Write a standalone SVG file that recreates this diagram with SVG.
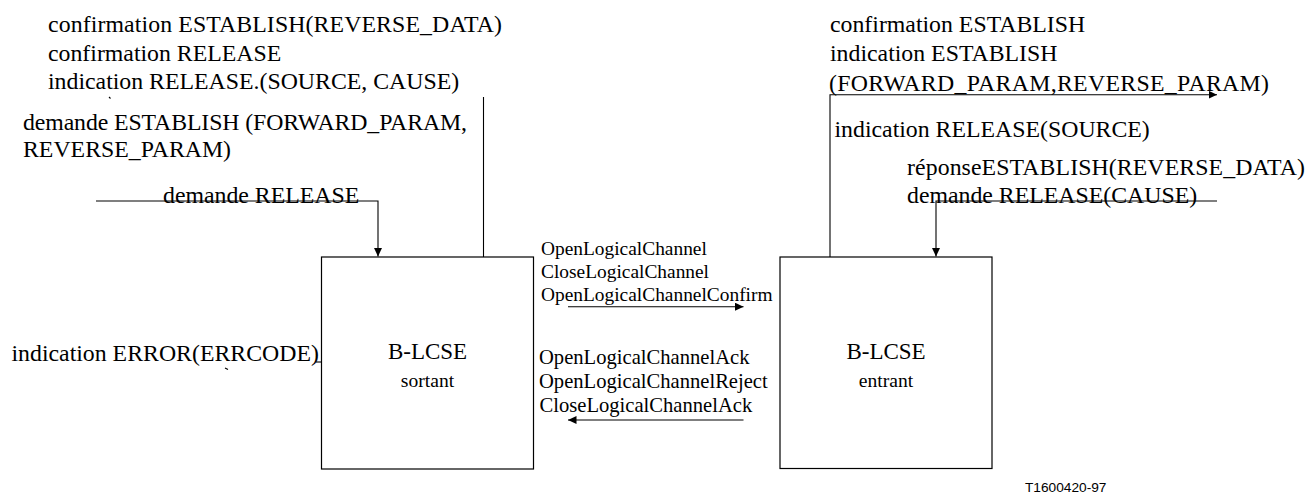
<svg xmlns="http://www.w3.org/2000/svg" width="1310" height="493" viewBox="0 0 1310 493">
<style>
.box{fill:#fff;stroke:#000;stroke-width:1.2}
.ln{fill:none;stroke:#000;stroke-width:1.1}
.arr{marker-end:url(#ah)}
.lg{font-size:23.8px}
.mt{font-size:19.4px}
.mb{font-size:20.6px}
.bt{font-size:23px;text-anchor:middle}
.bs{font-size:19.6px;text-anchor:middle}
.ref{font-size:13.7px}
</style>
<defs>
<marker id="ah" markerUnits="userSpaceOnUse" markerWidth="9" markerHeight="8" refX="8.5" refY="4" orient="auto">
<path d="M0,0 L8.5,4 L0,8 z" fill="#000"/>
</marker>
</defs>
<rect width="1310" height="493" fill="#fff"/>

<g id="connectors">
<path class="ln arr" d="M96,201 H378 V256.5"/>
<path class="ln" d="M483.5,97 V257"/>
<path class="ln" d="M316,362 H321.5"/>
<path class="ln arr" d="M830,257 V94.7 H1217"/>
<path class="ln arr" d="M1217,201 H936 V256.5"/>
<path class="ln arr" d="M568,306.7 H743.5"/>
<path class="ln arr" d="M743.5,420 H568"/>
<path class="ln" d="M109,97 l1.5,1.5"/>
<path class="ln" d="M225,368 l3,1.5"/>
</g>

<g id="node-sortant" font-family="'Liberation Serif', 'Times New Roman', serif">
<rect class="box" x="321.5" y="257" width="212" height="212"/>
<text class="bt" x="427.5" y="359">B-LCSE</text>
<text class="bs" x="427.5" y="387">sortant</text>
</g>

<g id="node-entrant" font-family="'Liberation Serif', 'Times New Roman', serif">
<rect class="box" x="780" y="257" width="212" height="211.5"/>
<text class="bt" x="886" y="359">B-LCSE</text>
<text class="bs" x="886" y="387">entrant</text>
</g>

<g id="labels-left" font-family="'Liberation Serif', 'Times New Roman', serif">
<text class="lg" x="48" y="32" textLength="454">confirmation ESTABLISH(REVERSE_DATA)</text>
<text class="lg" x="48" y="61">confirmation RELEASE</text>
<text class="lg" x="48" y="89">indication RELEASE.(SOURCE, CAUSE)</text>
<text class="lg" x="23" y="129.5" textLength="444">demande ESTABLISH (FORWARD_PARAM,</text>
<text class="lg" x="23" y="157">REVERSE_PARAM)</text>
<text class="lg" x="163" y="203">demande RELEASE</text>
<text class="lg" x="11.5" y="361">indication ERROR(ERRCODE)</text>
</g>

<g id="labels-middle" font-family="'Liberation Serif', 'Times New Roman', serif">
<text class="mt" x="541" y="255">OpenLogicalChannel</text>
<text class="mt" x="541" y="278">CloseLogicalChannel</text>
<text class="mt" x="541" y="301">OpenLogicalChannelConfirm</text>
<text class="mb" x="539" y="363.5">OpenLogicalChannelAck</text>
<text class="mb" x="539" y="387.5">OpenLogicalChannelReject</text>
<text class="mb" x="539.5" y="411.5">CloseLogicalChannelAck</text>
</g>

<g id="labels-right" font-family="'Liberation Serif', 'Times New Roman', serif">
<text class="lg" x="830" y="32">confirmation ESTABLISH</text>
<text class="lg" x="830" y="61">indication ESTABLISH</text>
<text class="lg" x="829" y="91" textLength="440">(FORWARD_PARAM,REVERSE_PARAM)</text>
<text class="lg" x="834.5" y="137">indication RELEASE(SOURCE)</text>
<text class="lg" x="907" y="175" textLength="398">réponseESTABLISH(REVERSE_DATA)</text>
<text class="lg" x="907" y="203">demande RELEASE(CAUSE)</text>
</g>

<text class="ref" x="1025" y="492" font-family="'Liberation Sans', Arial, sans-serif">T1600420-97</text>
</svg>
